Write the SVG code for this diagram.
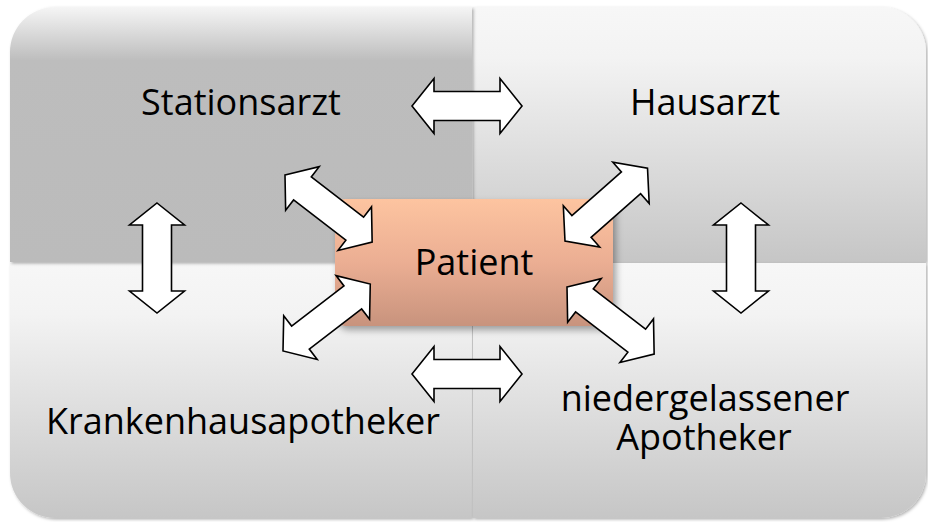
<svg xmlns="http://www.w3.org/2000/svg" xmlns:xlink="http://www.w3.org/1999/xlink" width="928" height="522" viewBox="0 0 928 522">
  <style>
    .lbl { font-family: "Open Sans", "Liberation Sans", sans-serif; font-size: 36px; fill: #000; text-anchor: middle; }
    .arrow { fill: #ffffff; stroke: #000000; stroke-width: 1.6; stroke-linejoin: miter; }
  </style>
  <defs>
    <linearGradient id="gTL" x1="0" y1="0" x2="0" y2="1">
      <stop offset="0" stop-color="#f5f5f5"/>
      <stop offset="0.21" stop-color="#bdbdbd"/>
      <stop offset="1" stop-color="#bbbbbb"/>
    </linearGradient>
    <linearGradient id="gQ" x1="0" y1="0" x2="0" y2="1">
      <stop offset="0" stop-color="#f7f7f7"/>
      <stop offset="0.2" stop-color="#f3f3f3"/>
      <stop offset="1" stop-color="#c6c6c6"/>
    </linearGradient>
    <linearGradient id="gP" x1="0" y1="0" x2="0" y2="1">
      <stop offset="0" stop-color="#fdc4a0"/>
      <stop offset="0.5" stop-color="#ebae93"/>
      <stop offset="1" stop-color="#c8937d"/>
    </linearGradient>
    <filter id="sh" x="-10%" y="-10%" width="120%" height="120%">
      <feDropShadow dx="1.5" dy="1.5" stdDeviation="1.5" flood-color="#000" flood-opacity="0.3"/>
    </filter>
    <filter id="shP" x="-10%" y="-10%" width="125%" height="130%">
      <feDropShadow dx="3" dy="4" stdDeviation="3.5" flood-color="#000" flood-opacity="0.35"/>
    </filter>
    <path id="dbl" class="arrow" d="M0,0 L22,-27.5 L22,-14.5 L88,-14.5 L88,-27.5 L110,0 L88,27.5 L88,14.5 L22,14.5 L22,27.5 Z"/>
  </defs>

  <rect x="0" y="0" width="928" height="522" fill="#ffffff"/>

  <g id="quadrants">
    <g id="node-hausarzt">
      <path d="M473,7 H881 A45,45 0 0 1 926,52 V262 H473 Z" fill="url(#gQ)" filter="url(#sh)"/>
      <text class="lbl" x="705" y="115">Hausarzt</text>
    </g>
    <g id="node-krankenhausapotheker">
      <path d="M10,263 H472 V518 H55 A45,45 0 0 1 10,473 Z" fill="url(#gQ)" filter="url(#sh)"/>
      <text class="lbl" x="243" y="434">Krankenhausapotheker</text>
    </g>
    <g id="node-apotheker">
      <path d="M473,263 H926 V473 A45,45 0 0 1 881,518 H473 Z" fill="url(#gQ)" filter="url(#sh)"/>
      <text class="lbl" x="705" y="411">niedergelassener</text>
      <text class="lbl" x="704" y="450">Apotheker</text>
    </g>
    <g id="node-stationsarzt">
      <path d="M10,262 V52 A45,45 0 0 1 55,7 H472 V262 Z" fill="url(#gTL)" filter="url(#sh)"/>
      <text class="lbl" x="241" y="115">Stationsarzt</text>
    </g>
  </g>

  <g id="node-patient">
    <rect x="335" y="199" width="278" height="127" rx="10" ry="10" fill="url(#gP)" filter="url(#shP)"/>
    <text class="lbl" x="474" y="275">Patient</text>
  </g>

  <g id="connectors">
    <use xlink:href="#dbl" transform="translate(412,106)"/>
    <use xlink:href="#dbl" transform="translate(412,374)"/>
    <use xlink:href="#dbl" transform="translate(157,203) rotate(90)"/>
    <use xlink:href="#dbl" transform="translate(741,203) rotate(90)"/>
    <use xlink:href="#dbl" transform="translate(285,175) rotate(37.6)"/>
    <use xlink:href="#dbl" transform="translate(565,241) rotate(-41.4)"/>
    <use xlink:href="#dbl" transform="translate(283,351) rotate(-37.5)"/>
    <use xlink:href="#dbl" transform="translate(567,287) rotate(37.6)"/>
  </g>
</svg>
